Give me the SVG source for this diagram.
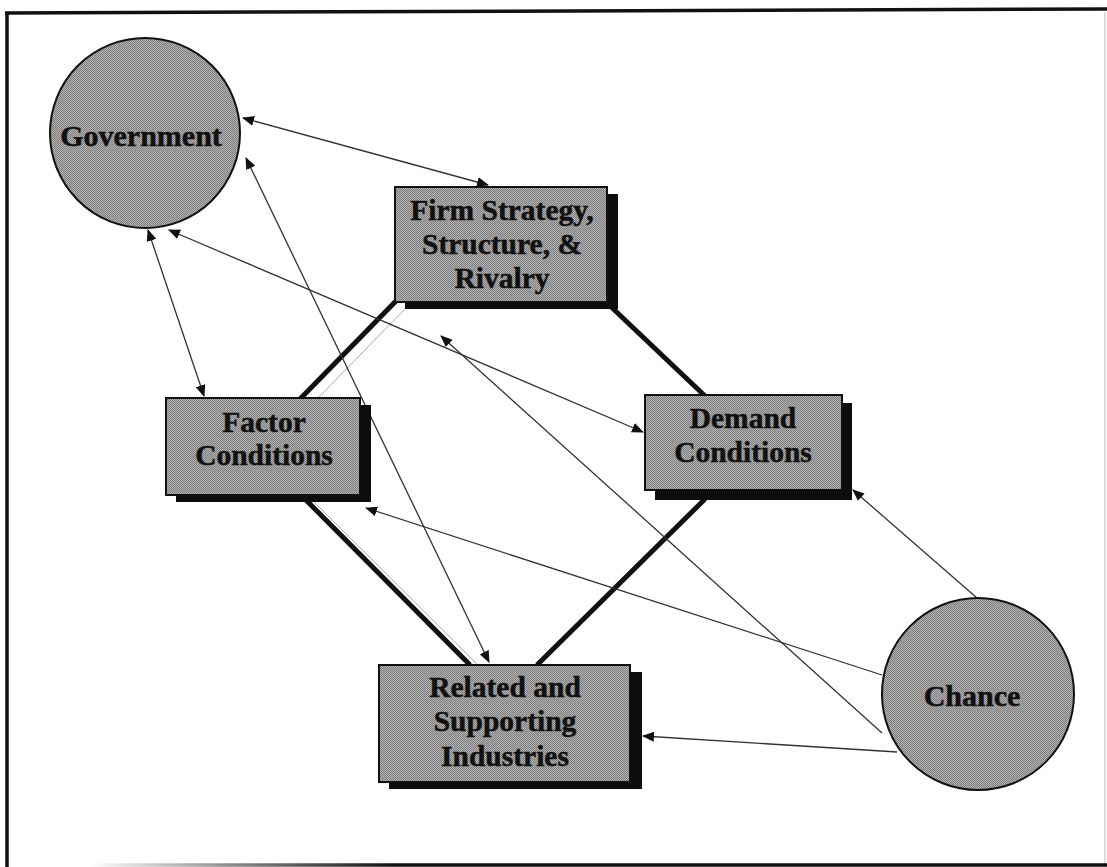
<svg xmlns="http://www.w3.org/2000/svg" width="1107" height="867" viewBox="0 0 1107 867">
  <defs>
    <!-- halftone grey fill -->
    <pattern id="dither" width="2" height="2" patternUnits="userSpaceOnUse">
      <rect width="2" height="2" fill="#b4b4b4"/>
      <rect width="1" height="1" fill="#7c7c7c"/>
      <rect x="1" y="1" width="1" height="1" fill="#7c7c7c"/>
    </pattern>
    <linearGradient id="fadeBottom" gradientUnits="userSpaceOnUse" x1="90" y1="0" x2="1107" y2="0">
      <stop offset="0" stop-color="#ffffff"/>
      <stop offset="0.12" stop-color="#9a9a9a"/>
      <stop offset="0.3" stop-color="#111111"/>
      <stop offset="1" stop-color="#111111"/>
    </linearGradient>
    <marker id="arrow" viewBox="0 0 12 10" refX="11" refY="5" markerWidth="12" markerHeight="10" markerUnits="userSpaceOnUse" orient="auto-start-reverse">
      <path d="M0,0 L12,5 L0,10 Z" fill="#111"/>
    </marker>
    <style>
      .node { fill: url(#dither); stroke: #111; stroke-width: 2; }
      .shadow { fill: #0d0d0d; }
      .label { font-family: "Liberation Serif", "Times New Roman", serif; font-weight: bold; font-size: 29.5px; fill: #111; stroke: #111; stroke-width: 0.5; text-anchor: middle; }
      .big { font-size: 30px; }
      .thin { stroke: #333; stroke-width: 1.3; fill: none; }
      .thick { stroke: #111; stroke-width: 5; fill: none; }
      .ghost { stroke: #a8a8a8; stroke-width: 1; fill: none; }
      .frame { stroke: #111; stroke-width: 3.5; fill: none; }
    </style>
  </defs>

  <rect width="1107" height="867" fill="#ffffff"/>

  <!-- outer frame -->
  <g id="frame">
    <line class="frame" x1="5" y1="13" x2="1107" y2="9"/>
    <line class="frame" x1="7" y1="12" x2="7" y2="867"/>
    <line x1="1105" y1="12" x2="1105" y2="867" stroke="#cfcfcf" stroke-width="1.5"/>
    <line x1="90" y1="865" x2="1107" y2="865" stroke="url(#fadeBottom)" stroke-width="3.5"/>
  </g>

  <!-- connectors -->
  <g id="connectors">
    <!-- diamond links -->
    <line class="thick" x1="397" y1="300" x2="300" y2="399"/>
    <line class="ghost" x1="408" y1="306" x2="312" y2="404"/>
    <line class="thick" x1="606" y1="302" x2="705" y2="396"/>
    <line class="thick" x1="302" y1="496" x2="470" y2="665"/>
    <line class="ghost" x1="312" y1="500" x2="478" y2="665"/>
    <line class="thick" x1="705" y1="499" x2="537" y2="665"/>

    <!-- government links -->
    <line class="thin" x1="243" y1="118" x2="488" y2="185" marker-start="url(#arrow)" marker-end="url(#arrow)"/>
    <line class="thin" x1="148" y1="230" x2="204" y2="396" marker-start="url(#arrow)" marker-end="url(#arrow)"/>
    <line class="thin" x1="169" y1="230" x2="643" y2="432" marker-start="url(#arrow)" marker-end="url(#arrow)"/>
    <line class="thin" x1="246" y1="158" x2="489" y2="662" marker-start="url(#arrow)" marker-end="url(#arrow)"/>

    <!-- chance links -->
    <line class="thin" x1="977" y1="598" x2="853" y2="490" marker-end="url(#arrow)"/>
    <line class="thin" x1="882" y1="675" x2="366" y2="508" marker-end="url(#arrow)"/>
    <line class="thin" x1="882" y1="733" x2="441" y2="336" marker-end="url(#arrow)"/>
    <line class="thin" x1="897" y1="752" x2="643" y2="736" marker-end="url(#arrow)"/>
  </g>

  <g id="government">
    <circle class="node" cx="145" cy="133" r="95"/>
    <text class="label big" x="141" y="146">Government</text>
  </g>

  <g id="firm-strategy">
    <rect class="shadow" x="405" y="194" width="213" height="115"/>
    <rect class="node" x="395" y="187" width="212" height="115"/>
    <text class="label" x="502" y="220">Firm Strategy,</text>
    <text class="label" x="502" y="254">Structure, &amp;</text>
    <text class="label" x="502" y="288">Rivalry</text>
  </g>

  <g id="factor-conditions">
    <rect class="shadow" x="176" y="405" width="195" height="97"/>
    <rect class="node" x="166" y="398" width="194" height="97"/>
    <text class="label" x="264" y="432">Factor</text>
    <text class="label" x="264" y="465">Conditions</text>
  </g>

  <g id="demand-conditions">
    <rect class="shadow" x="655" y="403" width="197" height="97"/>
    <rect class="node" x="645" y="395" width="197" height="95"/>
    <text class="label" x="743" y="428">Demand</text>
    <text class="label" x="743" y="462">Conditions</text>
  </g>

  <g id="related-supporting">
    <rect class="shadow" x="389" y="672" width="253" height="117"/>
    <rect class="node" x="379" y="665" width="251" height="117"/>
    <text class="label" x="505" y="697">Related and</text>
    <text class="label" x="505" y="731">Supporting</text>
    <text class="label" x="505" y="766">Industries</text>
  </g>

  <g id="chance">
    <circle class="node" cx="978" cy="694" r="96"/>
    <text class="label big" x="972" y="706">Chance</text>
  </g>
</svg>
